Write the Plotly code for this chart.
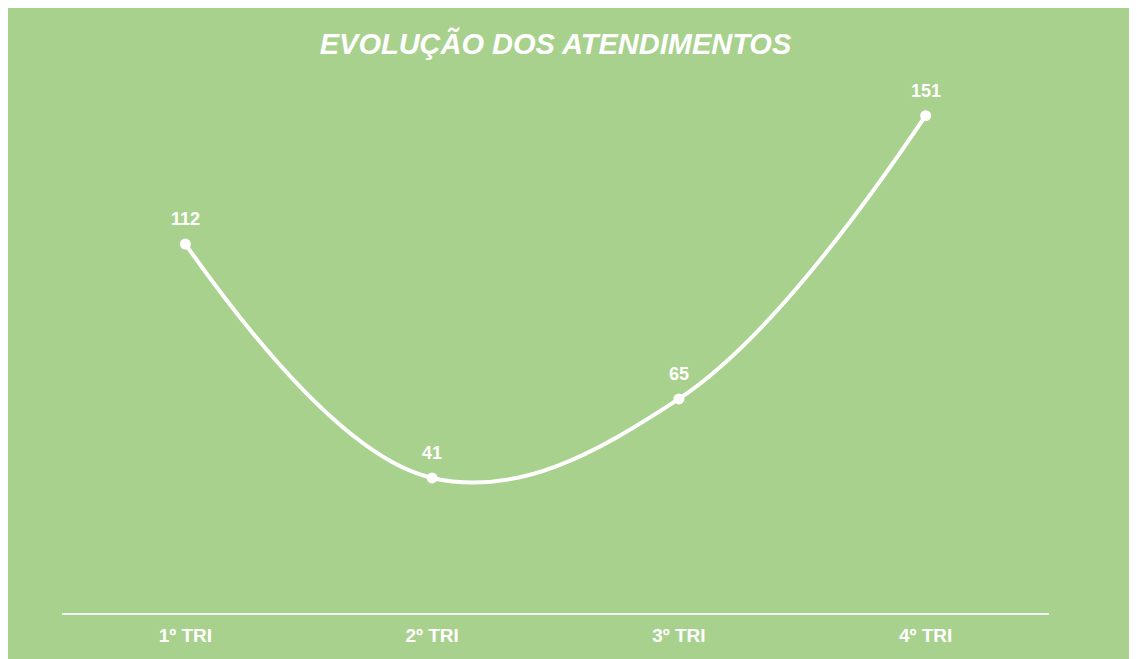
import plotly.graph_objects as go

categories = ["1º TRI", "2º TRI", "3º TRI", "4º TRI"]
values = [112, 41, 65, 151]
title_text = "EVOLUÇÃO DOS ATENDIMENTOS"

W, H = 1137, 659
L, R, T, B = 54, 96, 78, 54
GREEN = "#A9D18E"
FONT = "Liberation Sans, Arial"

fig = go.Figure()
fig.add_trace(go.Scatter(
    x=categories, y=values,
    mode="lines+markers",
    line=dict(color="white", width=4, shape="spline", smoothing=1.1),
    marker=dict(color="white", size=11),
    cliponaxis=False,
    hoverinfo="skip",
))

for c, v in zip(categories, values):
    fig.add_annotation(x=c, y=v, text="<b>%d</b>" % v, showarrow=False,
                       yanchor="middle", yshift=25,
                       font=dict(family=FONT, size=18, color="white"))

fig.update_layout(
    width=W, height=H,
    margin=dict(l=L, r=R, t=T, b=B),
    paper_bgcolor=GREEN,
    plot_bgcolor=GREEN,
    showlegend=False,
    title=dict(text="<b><i>" + title_text + "</i></b>", x=0.5, xref="paper",
               y=1 - 36 / H, yanchor="middle",
               font=dict(family=FONT, size=29, color="white")),
    xaxis=dict(range=[-0.5, 3.5], showgrid=False, zeroline=False,
               showline=True, linecolor="#F2F2F2", linewidth=2,
               ticks="", ticklabelstandoff=4,
               tickfont=dict(family=FONT, size=19, color="white", weight="bold")),
    yaxis=dict(range=[0, 160], visible=False),
)

fig.write_html("out.html")
